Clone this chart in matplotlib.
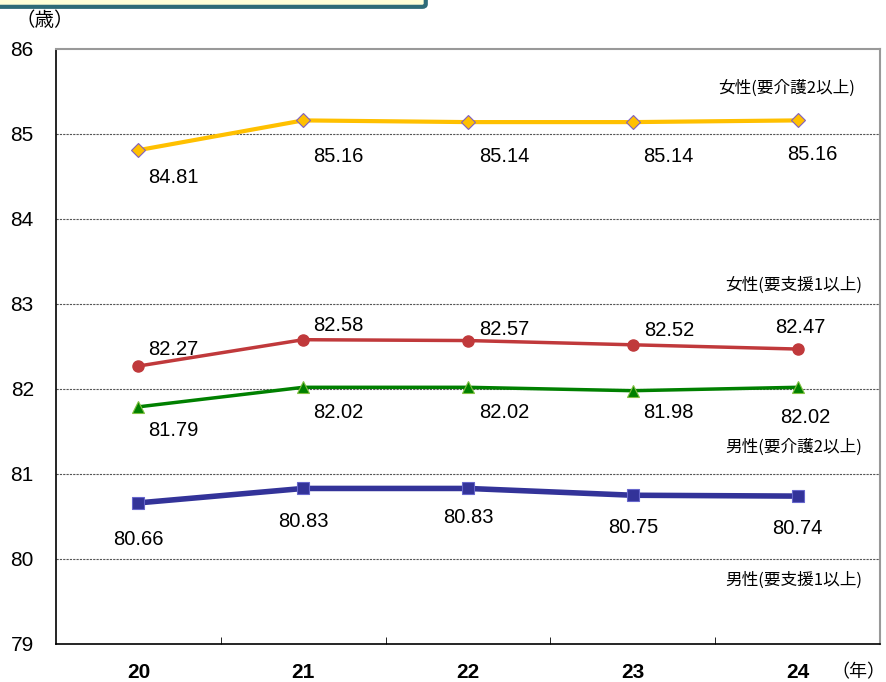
import matplotlib
matplotlib.use("Agg")
import matplotlib.pyplot as plt
from matplotlib import font_manager
from matplotlib.patches import FancyBboxPatch

names = {f.name for f in font_manager.fontManager.ttflist}
num_font = "Liberation Sans Narrow" if "Liberation Sans Narrow" in names else "Liberation Sans"
plt.rcParams['font.family'] = [num_font, 'Noto Sans CJK JP', 'DejaVu Sans']

years = ["20", "21", "22", "23", "24"]
female_care2 = [84.81, 85.16, 85.14, 85.14, 85.16]
female_support1 = [82.27, 82.58, 82.57, 82.52, 82.47]
male_care2 = [81.79, 82.02, 82.02, 81.98, 82.02]
male_support1 = [80.66, 80.83, 80.83, 80.75, 80.74]
y_ticks = [79, 80, 81, 82, 83, 84, 85, 86]

fig = plt.figure(figsize=(8.87, 6.82), dpi=100)
ax = fig.add_axes([56/887, 38/682, 824/887, 595/682])

# header box strip at top
fig.patches.append(FancyBboxPatch((-0.01, 0.99), 0.49, 0.04, boxstyle="round,pad=0,rounding_size=0.004",
                                  transform=fig.transFigure, facecolor="#FFFFD8", edgecolor="#2E6B78",
                                  linewidth=3, figure=fig, clip_on=False))

x = list(range(len(years)))
for v in [80, 81, 82, 83, 84, 85]:
    ax.axhline(v, color="#555555", linewidth=0.8, linestyle=(0, (2, 1)), zorder=1)

ax.plot(x, female_care2, color="#FFC000", linewidth=3, marker="D", markersize=7,
        markerfacecolor="#FFC000", markeredgecolor="#8060C0", markeredgewidth=0.8, zorder=3)
ax.plot(x, female_support1, color="#C0393B", linewidth=2.5, marker="o", markersize=8,
        markerfacecolor="#C0393B", markeredgecolor="#C0393B", zorder=3)
ax.plot(x, male_care2, color="#008000", linewidth=2.5, marker="^", markersize=8,
        markerfacecolor="#008000", markeredgecolor="#80C040", markeredgewidth=0.8, zorder=3)
ax.plot(x, male_support1, color="#333399", linewidth=4, marker="s", markersize=8,
        markerfacecolor="#333399", markeredgecolor="#6666CC", markeredgewidth=0.8, zorder=3)

def label(series, offsets):
    for i, (v, (dx, dy)) in enumerate(zip(series, offsets)):
        ax.annotate(f"{v:.2f}", (i, v), xytext=(dx, dy), textcoords="offset pixels",
                    ha="center", va="center", fontsize=14.5, color="black")

label(female_care2, [(35, -27), (35, -36), (36, -34), (36, -34), (15, -34)])
label(female_support1, [(35, 17), (35, 14), (36, 11), (36, 14), (3, 22)])
label(male_care2, [(35, -24), (35, -25), (36, -25), (36, -22), (8, -30)])
label(male_support1, [(0, -37), (0, -33), (0, -29), (0, -32), (0, -32)])

ax.set_xlim(-0.5, len(years) - 0.5)
ax.set_ylim(79, 86)
ax.set_yticks(y_ticks)
ax.set_yticklabels([str(t) for t in y_ticks], fontsize=15)
ax.set_xticks(x)
ax.set_xticklabels(years, fontsize=15, fontweight="bold")
ax.tick_params(axis="x", length=0, pad=14)
ax.tick_params(axis="y", length=0, pad=16)
ax.set_xticks([i + 0.5 for i in x[:-1]], minor=True)
ax.tick_params(axis="x", which="minor", direction="in", length=5, color="black")

for s in ["left", "bottom"]:
    ax.spines[s].set_color("black")
    ax.spines[s].set_linewidth(1.2)
for s in ["top", "right"]:
    ax.spines[s].set_color("#999999")
    ax.spines[s].set_linewidth(1.5)

series_names = [("女性(要介護2以上)", 0.970, 85.54),
                ("女性(要支援1以上)", 0.978, 83.22),
                ("男性(要介護2以上)", 0.978, 81.32),
                ("男性(要支援1以上)", 0.978, 79.75)]
for text, xf, yv in series_names:
    ax.text(xf, yv, text, ha="right", va="center", fontsize=12,
            transform=ax.get_yaxis_transform(), family=['Noto Sans CJK JP'])

fig.text(45/887, 1 - 20/682, "（歳）", ha="center", va="center", fontsize=14, family=['Noto Sans CJK JP'])
fig.text(885/887, 1 - 672/682, "（年）", ha="right", va="center", fontsize=13, family=['Noto Sans CJK JP'])

fig.savefig("out.png", dpi=100)
